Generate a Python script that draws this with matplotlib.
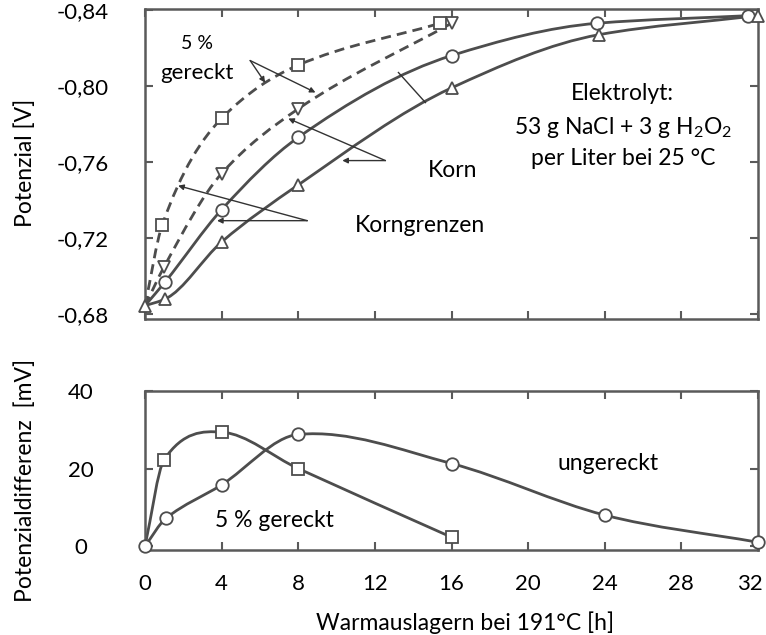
import matplotlib
matplotlib.use("Agg")
import matplotlib.pyplot as plt
import matplotlib.transforms as mtrans
from matplotlib.path import Path
from matplotlib.patches import PathPatch

# top panel: potential over ageing time
hours_circle = [0, 1.05, 4, 8, 16, 23.6, 31.5]
pot_circle = [-0.6845, -0.697, -0.735, -0.773, -0.816, -0.833, -0.837]
hours_tri_up = [0, 1.05, 4, 8, 16, 23.7, 32]
pot_tri_up = [-0.6845, -0.688, -0.718, -0.748, -0.799, -0.827, -0.837]
hours_square = [0, 0.9, 4, 8, 15.4]
pot_square = [-0.6845, -0.727, -0.783, -0.811, -0.833]
hours_tri_down = [0, 1.0, 4, 8, 16]
pot_tri_down = [-0.6845, -0.705, -0.754, -0.788, -0.833]

# bottom panel: potential difference
hours_ungereckt = [0, 1.1, 4, 8, 16, 24, 32]
diff_ungereckt = [0, 7.2, 15.8, 28.8, 21.3, 8.0, 1.0]
hours_gereckt = [0, 1, 4, 8, 16]
diff_gereckt = [0, 22.3, 29.4, 20.0, 2.3]

x_ticks = [0, 4, 8, 12, 16, 20, 24, 28, 32]
x_tick_labels = ["0", "4", "8", "12", "16", "20", "24", "28", "32"]
y1_ticks = [-0.84, -0.80, -0.76, -0.72, -0.68]
y1_tick_labels = ["-0,84", "-0,80", "-0,76", "-0,72", "-0,68"]
y2_ticks = [0, 20, 40]
y2_tick_labels = ["0", "20", "40"]

line_col = "#4d4d4d"
frame_col = "#5a5a5a"

plt.rcParams["font.family"] = ["Lato", "DejaVu Sans"]
plt.rcParams["mathtext.fontset"] = "custom"
plt.rcParams["mathtext.rm"] = "Lato"
plt.rcParams["mathtext.it"] = "Lato:italic"
plt.rcParams["mathtext.bf"] = "Lato:bold"
fs = 16
fs_lab = 16.5


def tangents(x, y, monotone):
    n = len(x)
    sec = [(y[i + 1] - y[i]) / (x[i + 1] - x[i]) for i in range(n - 1)]
    m = [0.0] * n
    m[0] = sec[0]
    m[-1] = sec[-1]
    for i in range(1, n - 1):
        if monotone and sec[i - 1] * sec[i] > 0:
            h0 = x[i] - x[i - 1]
            h1 = x[i + 1] - x[i]
            w1 = 2 * h1 + h0
            w2 = h1 + 2 * h0
            m[i] = (w1 + w2) / (w1 / sec[i - 1] + w2 / sec[i])
        else:
            m[i] = (y[i + 1] - y[i - 1]) / (x[i + 1] - x[i - 1])
    return m


def smooth_curve(ax, x, y, monotone=True, ls="-"):
    m = tangents(x, y, monotone)
    verts = [(x[0], y[0])]
    codes = [Path.MOVETO]
    for i in range(len(x) - 1):
        h = x[i + 1] - x[i]
        verts += [(x[i] + h / 3, y[i] + m[i] * h / 3),
                  (x[i + 1] - h / 3, y[i + 1] - m[i + 1] * h / 3),
                  (x[i + 1], y[i + 1])]
        codes += [Path.CURVE4] * 3
    patch = PathPatch(Path(verts, codes), fill=False, edgecolor=line_col,
                      lw=2.0, linestyle=ls, capstyle="butt", clip_on=False, zorder=2)
    ax.add_patch(patch)


def markers(ax, x, y, marker, skip_first=True, ms=9):
    ax.plot(x[1:] if skip_first else x, y[1:] if skip_first else y, ls="none",
            marker=marker, ms=ms, mfc="white", mec=line_col, mew=1.3,
            clip_on=False, zorder=3)


def style_axes(ax):
    for s in ax.spines.values():
        s.set_color(frame_col)
        s.set_linewidth(1.8)
    ax.tick_params(direction="in", length=6, width=1.5, color=frame_col,
                   top=True, right=True, labelsize=fs)


fig = plt.figure(figsize=(7.66, 6.35), dpi=100)
W, H = 766, 635
ax1 = fig.add_axes([145 / W, 1 - 319 / H, 613 / W, 310 / H])
ax2 = fig.add_axes([145 / W, 1 - 550 / H, 613 / W, 159 / H])

# top panel
dash = (0, (3.6, 2.2))
smooth_curve(ax1, hours_square, pot_square, ls=dash)
smooth_curve(ax1, hours_tri_down, pot_tri_down, ls=dash)
smooth_curve(ax1, hours_circle, pot_circle)
smooth_curve(ax1, hours_tri_up, pot_tri_up)
markers(ax1, hours_square, pot_square, "s", ms=8.5)
markers(ax1, hours_tri_down, pot_tri_down, "v")
markers(ax1, hours_circle, pot_circle, "o")
markers(ax1, hours_tri_up, pot_tri_up, "^", skip_first=False)

ax1.set_xlim(0, 32)
ax1.set_ylim(-0.6775, -0.8405)
ax1.set_xticks(x_ticks)
ax1.set_xticklabels([])
ax1.set_yticks(y1_ticks)
ax1.set_yticklabels(y1_tick_labels)
style_axes(ax1)
ax1.tick_params(axis="y", pad=26)

arrow = dict(arrowstyle="-|>", color="#333333", lw=1.0, mutation_scale=8,
             shrinkA=0, shrinkB=0)
# "5 % gereckt" pointers
for tip in [(6.27, -0.8018), (8.9, -0.7966)]:
    ax1.annotate("", xy=tip, xytext=(5.49, -0.8134), arrowprops=arrow)
# Korn pointers
for tip in [(7.48, -0.7829), (10.3, -0.7608)]:
    ax1.annotate("", xy=tip, xytext=(12.55, -0.7608), arrowprops=arrow)
# Korngrenzen pointers
for tip in [(1.73, -0.7476), (3.76, -0.7292)]:
    ax1.annotate("", xy=tip, xytext=(8.47, -0.7292), arrowprops=arrow)
ax1.plot([13.23, 14.64], [-0.8071, -0.7913], color="#333333", lw=1.0)

ax1.text(2.72, -0.8224, "5 %", fontsize=14, ha="center", va="center")
ax1.text(2.72, -0.8071, "gereckt", fontsize=fs, ha="center", va="center")
ax1.text(16.05, -0.7555, "Korn", fontsize=fs_lab, ha="center", va="center")
ax1.text(14.38, -0.7266, "Korngrenzen", fontsize=fs_lab, ha="center", va="center")
ax1.text(24.94, -0.796, "Elektrolyt:", fontsize=fs_lab, ha="center", va="center")
ax1.text(24.94, -0.7782, r"53 g NaCl + 3 g H$_2$O$_2$", fontsize=fs_lab,
         ha="center", va="center")
ax1.text(24.94, -0.7618, "per Liter bei 25 °C", fontsize=fs_lab,
         ha="center", va="center")

# bottom panel
smooth_curve(ax2, hours_gereckt, diff_gereckt, monotone=False)
smooth_curve(ax2, hours_ungereckt, diff_ungereckt, monotone=False)
markers(ax2, hours_gereckt, diff_gereckt, "s", ms=8.5)
markers(ax2, hours_ungereckt, diff_ungereckt, "o", skip_first=False)

ax2.set_xlim(0, 32)
ax2.set_ylim(-1, 40)
ax2.set_xticks(x_ticks)
ax2.set_xticklabels(x_tick_labels)
ax2.set_yticks(y2_ticks)
ax2.set_yticklabels(y2_tick_labels, ha="center")
style_axes(ax2)
ax2.tick_params(axis="y", pad=46)
ax2.tick_params(axis="x", pad=17)
last = ax2.get_xticklabels()[-1]
last.set_transform(last.get_transform() + mtrans.ScaledTranslation(-8 / 100, 0, fig.dpi_scale_trans))
ax2.text(24.16, 21.4, "ungereckt", fontsize=fs_lab, ha="center", va="center")
ax2.text(6.74, 6.7, "5 % gereckt", fontsize=fs_lab, ha="center", va="center")

fig.text(25 / W, 1 - 163 / H, "Potenzial [V]", rotation=90, fontsize=fs_lab,
         ha="center", va="center")
fig.text(25 / W, 1 - 480 / H, "Potenzialdifferenz  [mV]", rotation=90,
         fontsize=fs_lab, ha="center", va="center")
fig.text(465 / W, 1 - 623 / H, "Warmauslagern bei 191°C [h]", fontsize=fs_lab,
         ha="center", va="center")

fig.savefig("out.png", dpi=100)
